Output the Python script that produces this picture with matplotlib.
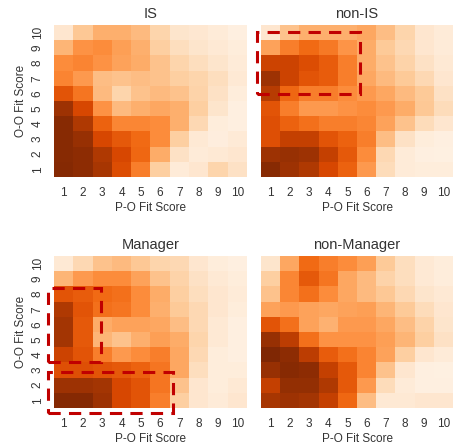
import numpy as np
import matplotlib.pyplot as plt
from matplotlib.patches import Rectangle

plt.rcParams['font.family'] = ['Liberation Sans', 'DejaVu Sans']
plt.rcParams['text.color'] = '#333333'
plt.rcParams['axes.labelcolor'] = '#333333'
plt.rcParams['xtick.color'] = '#333333'
plt.rcParams['ytick.color'] = '#333333'

scores = list(range(1, 11))

# rows: O-O fit score 10 (top) down to 1 (bottom); columns: P-O fit score 1..10
is_grid = [
    [0.12, 0.28, 0.37, 0.37, 0.33, 0.22, 0.13, 0.11, 0.08, 0.05],
    [0.35, 0.48, 0.50, 0.43, 0.37, 0.25, 0.17, 0.13, 0.10, 0.07],
    [0.50, 0.53, 0.48, 0.42, 0.38, 0.30, 0.22, 0.17, 0.13, 0.08],
    [0.53, 0.45, 0.32, 0.30, 0.32, 0.30, 0.25, 0.22, 0.17, 0.10],
    [0.70, 0.58, 0.33, 0.22, 0.30, 0.33, 0.30, 0.23, 0.15, 0.07],
    [0.90, 0.75, 0.48, 0.33, 0.37, 0.40, 0.37, 0.25, 0.13, 0.05],
    [0.97, 0.85, 0.65, 0.52, 0.52, 0.50, 0.37, 0.20, 0.07, 0.05],
    [0.97, 0.92, 0.75, 0.68, 0.62, 0.50, 0.25, 0.10, 0.06, 0.09],
    [0.97, 0.95, 0.85, 0.75, 0.63, 0.38, 0.15, 0.08, 0.10, 0.12],
    [0.98, 0.95, 0.87, 0.73, 0.55, 0.25, 0.08, 0.12, 0.22, 0.15],
]
non_is_grid = [
    [0.12, 0.30, 0.37, 0.37, 0.37, 0.40, 0.32, 0.22, 0.12, 0.08],
    [0.42, 0.55, 0.62, 0.57, 0.47, 0.38, 0.27, 0.20, 0.12, 0.08],
    [0.78, 0.78, 0.73, 0.67, 0.55, 0.38, 0.30, 0.23, 0.15, 0.10],
    [0.90, 0.78, 0.70, 0.67, 0.55, 0.40, 0.33, 0.27, 0.20, 0.12],
    [0.83, 0.63, 0.55, 0.55, 0.50, 0.45, 0.40, 0.33, 0.27, 0.15],
    [0.70, 0.55, 0.45, 0.45, 0.48, 0.50, 0.45, 0.38, 0.28, 0.18],
    [0.72, 0.65, 0.60, 0.55, 0.55, 0.52, 0.42, 0.30, 0.18, 0.12],
    [0.72, 0.80, 0.80, 0.70, 0.65, 0.55, 0.32, 0.15, 0.07, 0.05],
    [0.90, 0.92, 0.90, 0.80, 0.68, 0.50, 0.20, 0.08, 0.05, 0.04],
    [0.97, 0.90, 0.85, 0.75, 0.65, 0.45, 0.18, 0.08, 0.07, 0.07],
]
manager_grid = [
    [0.10, 0.20, 0.30, 0.33, 0.28, 0.22, 0.20, 0.12, 0.07, 0.05],
    [0.35, 0.45, 0.50, 0.50, 0.42, 0.30, 0.23, 0.15, 0.10, 0.07],
    [0.70, 0.67, 0.62, 0.60, 0.50, 0.38, 0.25, 0.17, 0.12, 0.08],
    [0.85, 0.70, 0.60, 0.58, 0.50, 0.37, 0.27, 0.20, 0.12, 0.07],
    [0.88, 0.68, 0.38, 0.42, 0.42, 0.40, 0.32, 0.20, 0.10, 0.05],
    [0.88, 0.68, 0.35, 0.30, 0.37, 0.43, 0.38, 0.22, 0.10, 0.05],
    [0.78, 0.70, 0.55, 0.45, 0.50, 0.55, 0.40, 0.20, 0.07, 0.05],
    [0.72, 0.72, 0.70, 0.68, 0.65, 0.58, 0.40, 0.17, 0.07, 0.07],
    [0.90, 0.90, 0.88, 0.75, 0.70, 0.58, 0.30, 0.12, 0.07, 0.10],
    [0.98, 0.98, 0.90, 0.75, 0.70, 0.55, 0.25, 0.12, 0.08, 0.12],
]
non_manager_grid = [
    [0.13, 0.40, 0.62, 0.55, 0.50, 0.43, 0.27, 0.17, 0.10, 0.07],
    [0.25, 0.52, 0.68, 0.58, 0.40, 0.33, 0.23, 0.17, 0.10, 0.07],
    [0.30, 0.52, 0.60, 0.50, 0.40, 0.33, 0.28, 0.20, 0.13, 0.10],
    [0.42, 0.45, 0.42, 0.40, 0.42, 0.43, 0.35, 0.27, 0.18, 0.12],
    [0.70, 0.60, 0.42, 0.36, 0.45, 0.45, 0.40, 0.32, 0.23, 0.13],
    [0.92, 0.82, 0.60, 0.48, 0.48, 0.48, 0.43, 0.35, 0.25, 0.15],
    [1.00, 0.95, 0.82, 0.67, 0.60, 0.53, 0.42, 0.25, 0.12, 0.08],
    [0.92, 0.97, 0.95, 0.80, 0.68, 0.53, 0.30, 0.12, 0.05, 0.04],
    [0.80, 0.93, 0.93, 0.85, 0.68, 0.45, 0.18, 0.08, 0.05, 0.05],
    [0.87, 0.90, 0.88, 0.80, 0.63, 0.32, 0.10, 0.10, 0.12, 0.12],
]

titles = ['IS', 'non-IS', 'Manager', 'non-Manager']
grids = [is_grid, non_is_grid, manager_grid, non_manager_grid]

# highlight boxes (x0, y0, x1, y1) in score units, per panel
boxes = {
    1: [(0.29, 5.96, 5.66, 10.02)],
    2: [(0.20, 3.53, 2.92, 8.42), (0.20, 0.17, 6.68, 2.85)],
}

W, H = 453, 447
fig = plt.figure(figsize=(W / 100, H / 100), dpi=100)

# panel positions in pixels: left, top, width, height
pos = [(54, 25, 193, 152), (261, 25, 192, 152),
       (54, 256, 193, 152), (261, 256, 192, 152)]

for i, (title, grid) in enumerate(zip(titles, grids)):
    l, t, w, h = pos[i]
    ax = fig.add_axes([l / W, 1 - (t + h) / H, w / W, h / H])
    ax.imshow(np.array(grid), cmap='Oranges', vmin=0, vmax=1, aspect='auto',
              extent=(0.5, 10.5, 0.5, 10.5), interpolation='nearest')
    for s in ax.spines.values():
        s.set_visible(False)
    ax.set_xticks(scores)
    ax.set_xticklabels([str(v) for v in scores], fontsize=8.5)
    ax.set_yticks(scores)
    ax.tick_params(length=0, pad=7.5)
    if i % 2 == 0:
        ax.set_yticklabels([str(v) for v in scores], fontsize=8.5, rotation=90, va='center')
        ax.set_ylabel('O-O Fit Score', fontsize=8.5, labelpad=3)
    else:
        ax.set_yticklabels([])
    ax.set_xlabel('P-O Fit Score', fontsize=8.5, labelpad=2)
    ax.set_title(title, fontsize=10.5, pad=5)

    for (x0, y0, x1, y1) in boxes.get(i, []):
        ax.add_patch(Rectangle((x0, y0), x1 - x0, y1 - y0, fill=False,
                               edgecolor='#c00000', lw=2.2,
                               linestyle=(0, (4, 2.7)), clip_on=False, zorder=5))

fig.savefig('out.png', dpi=100)
